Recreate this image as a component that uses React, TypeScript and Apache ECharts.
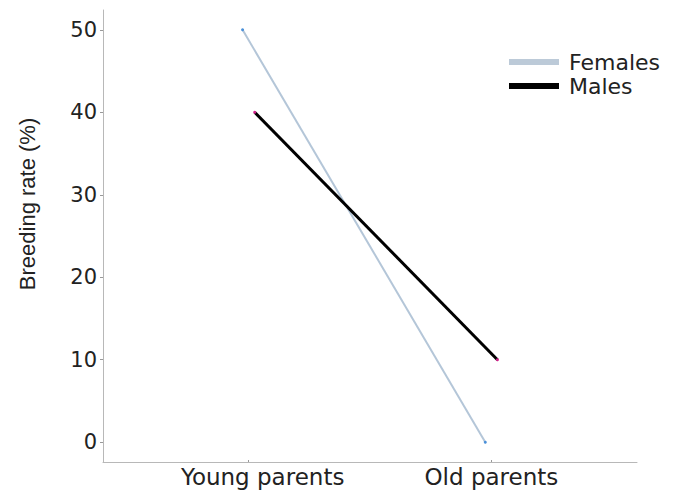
import React, { useEffect, useRef } from "react";
import * as echarts from "echarts";

const categories = ["Young parents", "Old parents"];
const femalesValues = [50, 0];
const malesValues = [40, 10];
const yTicks = [0, 10, 20, 30, 40, 50];
const seriesNames = ["Females", "Males"];

export default function App() {
  const ref = useRef<HTMLDivElement>(null);
  useEffect(() => {
    const chart = echarts.init(ref.current!, null, { renderer: "svg" });
    const dodge = 0.025;
    const femData = femalesValues.map((v, i) => [i - dodge, v]);
    const maleData = malesValues.map((v, i) => [i + dodge, v]);
    const catIdx = categories.map((_, i) => i);
    chart.setOption({
      animation: false,
      backgroundColor: "#ffffff",
      grid: { left: 103, right: 43, top: 10, bottom: 34 },
      legend: {
        orient: "vertical",
        left: 509,
        top: 51,
        padding: 0,
        icon: "rect",
        itemWidth: 50,
        itemHeight: 6,
        itemGap: 2,
        textStyle: { fontFamily: "DejaVu Sans", fontSize: 22, color: "#222", lineHeight: 20, padding: [0, 0, 0, 5] },
        data: [
          { name: seriesNames[0], itemStyle: { color: "#bccad8" } },
          { name: seriesNames[1], itemStyle: { color: "#000000" } },
        ],
      },
      xAxis: {
        type: "value",
        min: -0.6,
        max: 1.6,
        splitLine: { show: false },
        axisLine: { onZero: false, lineStyle: { color: "#b8b8b8", width: 1 } },
        axisTick: { show: true, customValues: catIdx, length: 2, inside: true, lineStyle: { color: "#999" } },
        axisLabel: {
          customValues: catIdx,
          margin: 3,
          formatter: (v: number) => {
            const i = Math.round(v);
            return i === 0 ? "{y|" + categories[i] + "}" : "{o|" + categories[i] + "}";
          },
          rich: {
            y: { fontFamily: "DejaVu Sans", fontSize: 23, color: "#222", padding: [0, 0, 0, 28] },
            o: { fontFamily: "DejaVu Sans", fontSize: 23, color: "#222" },
          },
        },
      },
      yAxis: {
        type: "value",
        min: -2.4,
        max: 52.4,
        splitLine: { show: false },
        axisLine: { show: true, onZero: false, lineStyle: { color: "#b8b8b8", width: 1 } },
        axisTick: { show: true, customValues: yTicks, length: 3, lineStyle: { color: "#999" } },
        axisLabel: {
          customValues: yTicks,
          margin: 6,
          fontFamily: "DejaVu Sans",
          fontSize: 21,
          color: "#222",
        },
      },
      graphic: [
        {
          type: "text",
          x: 27,
          y: 204,
          rotation: Math.PI / 2,
          style: {
            text: "Breeding rate (%)",
            fontFamily: "Liberation Sans",
            fontSize: 22,
            fill: "#222",
            align: "center",
            verticalAlign: "middle",
          },
        },
      ],
      series: [
        {
          name: seriesNames[0],
          type: "line",
          data: femData,
          symbol: "circle",
          symbolSize: 3,
          showSymbol: true,
          lineStyle: { color: "#b4c6d8", width: 2 },
          itemStyle: { color: "#4a90d9" },
        },
        {
          name: seriesNames[1],
          type: "line",
          data: maleData,
          symbol: "circle",
          symbolSize: 3,
          showSymbol: true,
          lineStyle: { color: "#000000", width: 3 },
          itemStyle: { color: "#d0208a" },
        },
      ],
    });
    return () => chart.dispose();
  }, []);
  return (
    <div
      ref={ref}
      style={{ position: "absolute", left: 0, top: 0, width: 680, height: 496 }}
    />
  );
}
